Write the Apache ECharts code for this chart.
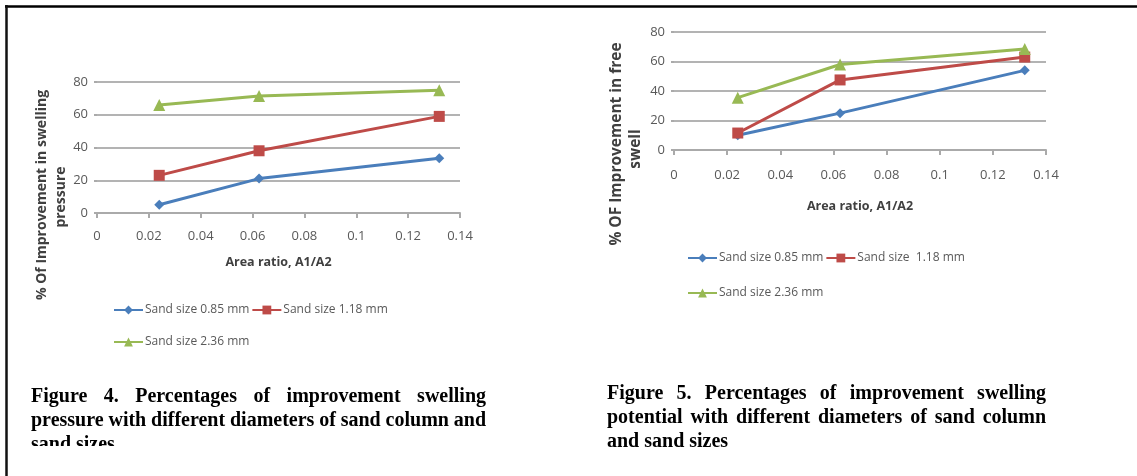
<!DOCTYPE html>
<html>
<head>
<meta charset="utf-8">
<script src="https://cdn.jsdelivr.net/npm/echarts@6/dist/echarts.min.js"></script>
<style>
  html, body { margin: 0; padding: 0; background: #fff; }
  #main { width: 1137px; height: 476px; }
</style>
</head>
<body>
<div id="main"></div>
<script>
// area ratio A1/A2 of the three columns
var areaRatio = [0.024, 0.0625, 0.132];
// figure 4: improvement in swelling pressure (%)
var pressure085 = [5, 21, 33.5];
var pressure118 = [23, 38, 59];
var pressure236 = [66, 71.5, 75];
// figure 5: improvement in free swell (%)
var swell085 = [10, 25, 54];
var swell118 = [11.5, 47.5, 63];
var swell236 = [35.5, 58, 68.5];

var xTicks = [0, 0.02, 0.04, 0.06, 0.08, 0.1, 0.12, 0.14];
var yTicks = [0, 20, 40, 60, 80];

var names = ['Sand size 0.85 mm', 'Sand size 1.18 mm', 'Sand size 2.36 mm'];
var namesRight = ['Sand size 0.85 mm', 'Sand size  1.18 mm', 'Sand size 2.36 mm'];

var colors = ['#4a7ebb', '#be4b48', '#98b954'];
var symbols = ['diamond', 'rect', 'triangle'];
var symbolSizes = [10, 11, 12];

function pairs(ys) {
  return ys.map(function (v, i) { return [areaRatio[i], v]; });
}

function xAxisFor(idx, labelMargin, gap) {
  return {
    gridIndex: idx,
    type: 'value',
    min: xTicks[0],
    max: xTicks[xTicks.length - 1],
    interval: 0.02,
    name: 'Area ratio, A1/A2',
    nameLocation: 'middle',
    nameGap: gap,
    nameTextStyle: { fontFamily: 'Open Sans', fontWeight: 'bold', fontSize: 12.5, color: '#404040' },
    axisLine: { show: true, lineStyle: { color: '#aaaaaa', width: 2 } },
    axisTick: { show: true, length: 5, lineStyle: { color: '#aaaaaa', width: 2 } },
    axisLabel: { margin: labelMargin, fontFamily: 'Open Sans', fontSize: 13, color: '#595959' },
    splitLine: { show: false }
  };
}

function yAxisFor(idx) {
  return {
    gridIndex: idx,
    type: 'value',
    min: yTicks[0],
    max: yTicks[yTicks.length - 1],
    interval: 20,
    axisLine: { show: false },
    axisTick: { show: true, length: 3, lineStyle: { color: '#aaaaaa', width: 2 } },
    axisLabel: { margin: 9, fontFamily: 'Open Sans', fontSize: 13, color: '#595959' },
    splitLine: { show: true, lineStyle: { color: '#b3b3b3', width: 2 } }
  };
}

function seriesFor(idx, nm, sets) {
  return sets.map(function (ys, k) {
    return {
      name: nm[k],
      type: 'line',
      xAxisIndex: idx,
      yAxisIndex: idx,
      data: pairs(ys),
      symbol: symbols[k],
      symbolSize: symbolSizes[k],
      showSymbol: true,
      color: colors[k],
      lineStyle: { width: 3, color: colors[k] },
      itemStyle: { color: colors[k] },
      z: 3 + k
    };
  });
}

function legendFor(x, y, data) {
  return {
    left: x,
    top: y,
    orient: 'horizontal',
    itemGap: 2,
    itemWidth: 29,
    itemHeight: 11,
    padding: 0,
    data: data,
    textStyle: { fontFamily: 'Open Sans', fontSize: 12, color: '#595959', padding: [0, 0, 0, -3] }
  };
}

// justified caption lines, measured with a canvas
var measureCtx = document.createElement('canvas').getContext('2d');
var capFont = 'bold 20px "Liberation Serif"';
measureCtx.font = capFont;

function captionLines(lines, x0, x1, y0, lineGap) {
  var out = [];
  lines.forEach(function (line, li) {
    var y = y0 + li * lineGap;
    var words = line.text.split(' ');
    if (!line.justify || words.length < 2) {
      out.push({ type: 'text', z: 10, x: x0, y: y,
        style: { text: line.text, font: capFont, fill: '#000', textVerticalAlign: 'middle' } });
      return;
    }
    var widths = words.map(function (w) { return measureCtx.measureText(w).width; });
    var total = widths.reduce(function (a, b) { return a + b; }, 0);
    var gap = (x1 - x0 - total) / (words.length - 1);
    var cx = x0;
    words.forEach(function (w, wi) {
      out.push({ type: 'text', z: 10, x: cx, y: y,
        style: { text: w, font: capFont, fill: '#000', textVerticalAlign: 'middle' } });
      cx += widths[wi] + gap;
    });
  });
  return out;
}

var caption4 = [
  { text: 'Figure 4. Percentages of improvement swelling', justify: true },
  { text: 'pressure with different diameters of sand column and', justify: true },
  { text: 'sand sizes', justify: false }
];
var caption5 = [
  { text: 'Figure 5. Percentages of improvement swelling', justify: true },
  { text: 'potential with different diameters of sand column', justify: true },
  { text: 'and sand sizes', justify: false }
];

var yTitleFont = 'bold 14px "Open Sans"';
var yTitleFontR = 'bold 15.5px "Open Sans"';

var graphics = [].concat(
  captionLines(caption4, 31, 486, 397, 24),
  captionLines(caption5, 607, 1046, 394, 24),
  [
    // clip the cut-off last line of figure 4 caption
    { type: 'rect', z: 20, shape: { x: 9, y: 446, width: 560, height: 30 }, style: { fill: '#fff' } },
    // frame lines
    { type: 'line', z: 30, shape: { x1: 5, y1: 6.5, x2: 1137, y2: 6.5 }, style: { stroke: '#000', lineWidth: 2.5 } },
    { type: 'line', z: 30, shape: { x1: 6.5, y1: 5, x2: 6.5, y2: 476 }, style: { stroke: '#111', lineWidth: 2.5 } },
    // y axis titles
    { type: 'text', z: 10, x: 42, y: 195, rotation: Math.PI / 2,
      style: { text: '% Of Improvement in swelling', font: yTitleFont, fill: '#404040', textAlign: 'center', textVerticalAlign: 'middle' } },
    { type: 'text', z: 10, x: 61, y: 197, rotation: Math.PI / 2,
      style: { text: 'pressure', font: yTitleFont, fill: '#404040', textAlign: 'center', textVerticalAlign: 'middle' } },
    { type: 'text', z: 10, x: 617, y: 144, rotation: Math.PI / 2,
      style: { text: '% OF Improvement in free', font: yTitleFontR, fill: '#404040', textAlign: 'center', textVerticalAlign: 'middle' } },
    { type: 'text', z: 10, x: 636, y: 149, rotation: Math.PI / 2,
      style: { text: 'swell', font: yTitleFontR, fill: '#404040', textAlign: 'center', textVerticalAlign: 'middle' } }
  ]
);

var chart = echarts.init(document.getElementById('main'), null, { renderer: 'canvas' });
chart.setOption({
  animation: false,
  backgroundColor: '#fff',
  grid: [
    { left: 97, top: 82, width: 363, height: 131 },
    { left: 674, top: 32, width: 372, height: 118 }
  ],
  xAxis: [xAxisFor(0, 17, 43), xAxisFor(1, 19, 50)],
  yAxis: [yAxisFor(0), yAxisFor(1)],
  legend: [
    legendFor(113, 304, [names[0], names[1]]),
    legendFor(113, 336, [names[2]]),
    legendFor(687, 252, [namesRight[0], namesRight[1]]),
    legendFor(687, 287, [namesRight[2]])
  ],
  series: [].concat(
    seriesFor(0, names, [pressure085, pressure118, pressure236]),
    seriesFor(1, namesRight, [swell085, swell118, swell236])
  ),
  graphic: graphics
});
</script>
</body>
</html>
